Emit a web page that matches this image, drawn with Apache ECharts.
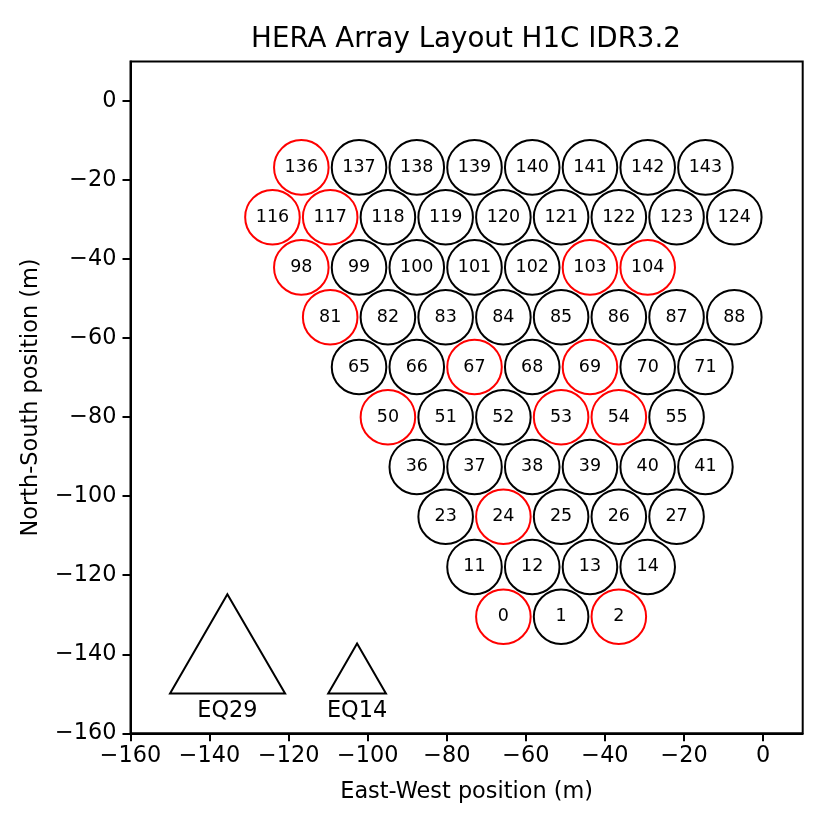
<!DOCTYPE html>
<html>
<head>
<meta charset="utf-8">
<script src="https://cdn.jsdelivr.net/npm/echarts@6/dist/echarts.min.js"></script>
<style>
  html, body { margin: 0; padding: 0; background: #fff; }
  #chart { width: 830px; height: 830px; }
</style>
</head>
<body>
<div id="chart"></div>
<script>
// antenna numbers and positions (m)
var antNums = [
    136, 137, 138, 139, 140, 141, 142, 143,
    116, 117, 118, 119, 120, 121, 122, 123, 124,
    98, 99, 100, 101, 102, 103, 104,
    81, 82, 83, 84, 85, 86, 87, 88,
    65, 66, 67, 68, 69, 70, 71,
    50, 51, 52, 53, 54, 55,
    36, 37, 38, 39, 40, 41,
    23, 24, 25, 26, 27,
    11, 12, 13, 14,
    0, 1, 2
];
var antX = [
    -116.8, -102.2, -87.6, -73.0, -58.4, -43.8, -29.2, -14.6,
    -124.1, -109.5, -94.9, -80.3, -65.7, -51.1, -36.5, -21.9, -7.3,
    -116.8, -102.2, -87.6, -73.0, -58.4, -43.8, -29.2,
    -109.5, -94.9, -80.3, -65.7, -51.1, -36.5, -21.9, -7.3,
    -102.2, -87.6, -73.0, -58.4, -43.8, -29.2, -14.6,
    -94.9, -80.3, -65.7, -51.1, -36.5, -21.9,
    -87.6, -73.0, -58.4, -43.8, -29.2, -14.6,
    -80.3, -65.7, -51.1, -36.5, -21.9,
    -73.0, -58.4, -43.8, -29.2,
    -65.7, -51.1, -36.5
];
var antY = [
    -16.8, -16.8, -16.8, -16.8, -16.8, -16.8, -16.8, -16.8,
    -29.4, -29.4, -29.4, -29.4, -29.4, -29.4, -29.4, -29.4, -29.4,
    -42.1, -42.1, -42.1, -42.1, -42.1, -42.1, -42.1,
    -54.7, -54.7, -54.7, -54.7, -54.7, -54.7, -54.7, -54.7,
    -67.3, -67.3, -67.3, -67.3, -67.3, -67.3, -67.3,
    -80.0, -80.0, -80.0, -80.0, -80.0, -80.0,
    -92.6, -92.6, -92.6, -92.6, -92.6, -92.6,
    -105.2, -105.2, -105.2, -105.2, -105.2,
    -117.9, -117.9, -117.9, -117.9,
    -130.5, -130.5, -130.5
];
// flagged antennas (drawn red)
var flagged = [136, 116, 117, 98, 81, 67, 69, 103, 104, 50, 53, 54, 24, 0, 2];

// scale triangles: name, vertex x, vertex y
var triNames = ['EQ29', 'EQ14'];
var triX = [[-150.0, -120.9, -135.5], [-110.0, -95.4, -102.7]];
var triY = [[-149.9, -149.9, -124.8], [-149.9, -149.9, -137.3]];

var dishRadius = 6.9;

var fmt = function (v) {
    return v < 0 ? '\u2212' + Math.abs(v) : String(v);
};

var chart = echarts.init(document.getElementById('chart'));

var antData = antNums.map(function (n, i) {
    return [antX[i], antY[i], n];
});
var triData = triNames.map(function (name, i) {
    return [triX[i][2], triY[i][0], i];
});

chart.setOption({
    animation: false,
    textStyle: {
        fontFamily: 'DejaVu Sans'
    },
    title: {
        text: 'HERA Array Layout H1C IDR3.2',
        left: 461,
        textAlign: 'center',
        top: 21,
        textStyle: {
            fontSize: 27.7,
            fontWeight: 'normal',
            color: '#000',
            fontFamily: 'DejaVu Sans'
        }
    },
    grid: {
        left: 130.5,
        right: 27.3,
        top: 61.5,
        bottom: 96.7,
        show: true,
        borderColor: '#000',
        borderWidth: 2,
        backgroundColor: 'transparent'
    },
    xAxis: {
        type: 'value',
        min: -160,
        max: 10,
        interval: 20,
        name: 'East-West position (m)',
        nameLocation: 'middle',
        nameGap: 48,
        nameTextStyle: { fontSize: 22.4, color: '#000' },
        splitLine: { show: false },
        axisLine: { onZero: false, lineStyle: { color: '#000', width: 2 } },
        axisTick: { length: 8, lineStyle: { color: '#000', width: 2 } },
        axisLabel: {
            fontSize: 22.4,
            color: '#000',
            margin: 12,
            showMaxLabel: false,
            formatter: fmt
        }
    },
    yAxis: {
        type: 'value',
        min: -160,
        max: 10,
        interval: 20,
        name: 'North-South position (m)',
        nameLocation: 'middle',
        nameGap: 88,
        nameTextStyle: { fontSize: 22.4, color: '#000' },
        splitLine: { show: false },
        axisLine: { onZero: false, lineStyle: { color: '#000', width: 2 } },
        axisTick: { length: 8, lineStyle: { color: '#000', width: 2 } },
        axisLabel: {
            fontSize: 22.4,
            color: '#000',
            margin: 14,
            showMaxLabel: false,
            formatter: fmt
        }
    },
    series: [{
        type: 'custom',
        name: 'antennas',
        data: antData,
        encode: { x: 0, y: 1 },
        renderItem: function (params, api) {
            var c = api.coord([api.value(0), api.value(1)]);
            var r = api.size([dishRadius, dishRadius])[0];
            var num = api.value(2);
            var col = flagged.indexOf(num) >= 0 ? '#ff0000' : '#000000';
            return {
                type: 'group',
                children: [{
                    type: 'circle',
                    shape: { cx: c[0], cy: c[1], r: r },
                    style: { fill: 'none', stroke: col, lineWidth: 2 }
                }, {
                    type: 'text',
                    x: c[0],
                    y: c[1],
                    style: {
                        text: String(num),
                        fill: '#000',
                        fontSize: 17.5,
                        fontFamily: 'DejaVu Sans',
                        align: 'center',
                        verticalAlign: 'middle'
                    }
                }]
            };
        }
    }, {
        type: 'custom',
        name: 'scale',
        data: triData,
        encode: { x: 0, y: 1 },
        renderItem: function (params, api) {
            var i = api.value(2);
            var pts = [0, 1, 2].map(function (k) {
                return api.coord([triX[i][k], triY[i][k]]);
            });
            var base = api.coord([api.value(0), api.value(1)]);
            return {
                type: 'group',
                children: [{
                    type: 'polygon',
                    shape: { points: pts },
                    style: { fill: 'none', stroke: '#000', lineWidth: 2 }
                }, {
                    type: 'text',
                    x: base[0],
                    y: base[1] + 7,
                    style: {
                        text: triNames[i],
                        fill: '#000',
                        fontSize: 22.4,
                        fontFamily: 'DejaVu Sans',
                        align: 'center',
                        verticalAlign: 'top'
                    }
                }]
            };
        }
    }]
});
</script>
</body>
</html>
